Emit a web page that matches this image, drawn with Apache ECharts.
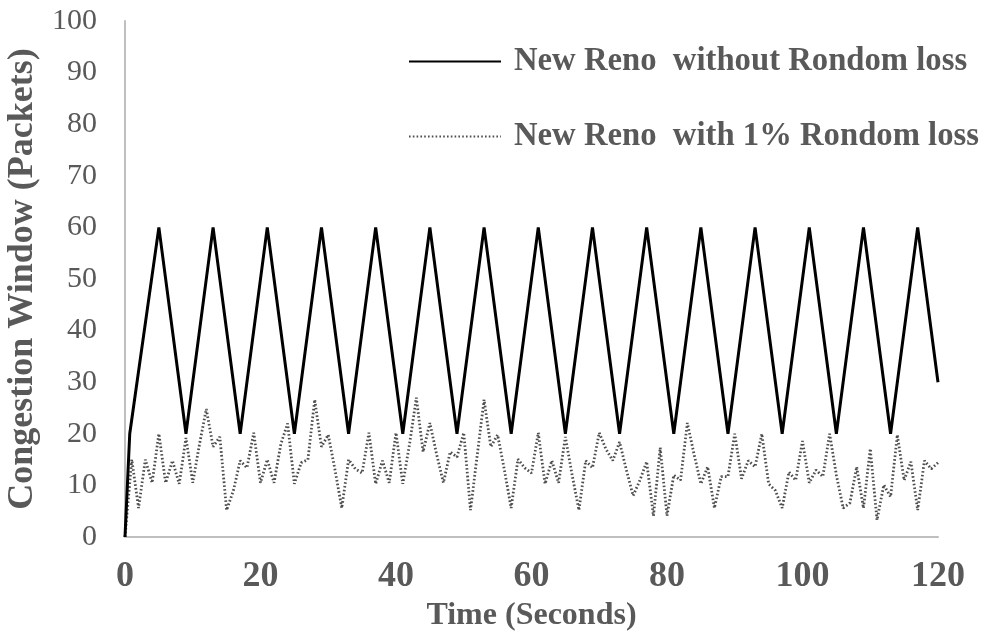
<!DOCTYPE html>
<html>
<head>
<meta charset="utf-8">
<script src="https://cdn.jsdelivr.net/npm/echarts@6/dist/echarts.min.js"></script>
<style>
  html, body { margin: 0; padding: 0; background: #fff; }
  #chart { width: 982px; height: 640px; }
</style>
</head>
<body>
<div id="chart"></div>
<script>
// Congestion window of TCP New Reno over time, with and without random loss.

const seriesNames = ['New Reno  without Rondom loss', 'New Reno  with 1% Rondom loss'];

// Sawtooth without loss: vertices (time in seconds, cwnd in packets)
const noLossTime = [0, 0.7, 5, 9, 13, 17, 21, 25, 29, 33, 37, 41, 45, 49, 53, 57, 61, 65, 69, 73, 77, 81, 85, 89, 93, 97, 101, 105, 109, 113, 117, 120];
const noLossCwnd = [0, 20, 60, 20, 60, 20, 60, 20, 60, 20, 60, 20, 60, 20, 60, 20, 60, 20, 60, 20, 60, 20, 60, 20, 60, 20, 60, 20, 60, 20, 60, 30];

// With 1% random loss: one sample per second, 0..120 s
const lossTime = [];
for (let t = 0; t <= 120; t++) lossTime.push(t);
const lossCwnd = [
  0, 15, 5.6, 15, 10.5, 20, 10.5, 14.8, 10.3, 19.2,
  10.5, 18, 24.8, 17.5, 19.4, 5.2, 9, 14.8, 13.4, 20.2,
  10.5, 15, 10.5, 18, 22, 10.3, 14.4, 15, 26.6, 17.5,
  19.8, 13, 5.6, 15, 13.2, 12.4, 20.2, 10.3, 14.8, 10.5,
  20.2, 10.3, 18, 27, 16.5, 22.1, 16, 10.5, 16.5, 15.5,
  20.2, 5.2, 16, 26.6, 17.5, 19.8, 13, 5.6, 15.1, 13.4,
  12.4, 20.2, 10.3, 14.8, 10.5, 19.4, 12, 5.2, 14.8, 13.4,
  20.2, 17, 14.8, 18.4, 13, 8, 11, 14.6, 4.1, 17.3,
  4.1, 12, 11, 22.1, 16, 10.3, 13.6, 5.6, 11.7, 11.7,
  20, 11.3, 14.8, 13.6, 20, 10.3, 9, 5.6, 12.6, 11,
  18.6, 10.5, 13, 11.7, 20, 12, 5.6, 6.6, 13.6, 5.6,
  17.1, 3.3, 10.1, 7.8, 19.8, 11, 14.6, 5.2, 14.8, 13.2,
  14.4
];

const xTicks = { min: 0, max: 120, interval: 20 };
const yTicks = { min: 0, max: 100, interval: 10 };

const zip = (xs, ys) => xs.map((x, i) => [x, ys[i]]);

const serif = '"Liberation Serif", "Times New Roman", serif';
const grey = '#595959';

const chart = echarts.init(document.getElementById('chart'), null, { renderer: 'canvas' });
chart.setOption({
  animation: false,
  backgroundColor: '#ffffff',
  grid: { left: 125, right: 44, top: 21, bottom: 103, containLabel: false, outerBoundsMode: 'none' },
  legend: {
    orient: 'vertical',
    left: 408,
    top: 45,
    padding: 0,
    itemWidth: 92,
    itemHeight: 20,
    itemGap: 42,
    itemStyle: { opacity: 0 },
    textStyle: {
      fontFamily: serif,
      fontWeight: 'bold',
      fontSize: 32.7,
      color: grey,
      padding: [0, 0, 0, 8]
    },
    data: seriesNames
  },
  xAxis: {
    type: 'value',
    min: xTicks.min,
    max: xTicks.max,
    interval: xTicks.interval,
    name: 'Time (Seconds)',
    nameLocation: 'middle',
    nameGap: 63,
    nameTextStyle: { fontFamily: serif, fontWeight: 'bold', fontSize: 32, color: grey },
    axisLine: { lineStyle: { color: '#bfbfbf', width: 2 } },
    axisTick: { show: false },
    splitLine: { show: false },
    axisLabel: { fontFamily: serif, fontWeight: 'bold', fontSize: 36, color: grey, margin: 22 }
  },
  yAxis: {
    type: 'value',
    min: yTicks.min,
    max: yTicks.max,
    interval: yTicks.interval,
    name: 'Congestion Window (Packets)',
    nameLocation: 'middle',
    nameGap: 57,
    nameTextStyle: { fontFamily: serif, fontWeight: 'bold', fontSize: 36, color: grey },
    axisLine: { show: true, lineStyle: { color: '#bfbfbf', width: 2 } },
    axisTick: { show: false },
    splitLine: { show: false },
    axisLabel: { fontFamily: serif, fontSize: 30, color: grey, margin: 28 }
  },
  series: [
    {
      name: seriesNames[0],
      type: 'line',
      data: zip(noLossTime, noLossCwnd),
      symbol: 'none',
      lineStyle: { color: '#000000', width: 3 },
      itemStyle: { color: '#000000' },
      z: 3
    },
    {
      name: seriesNames[1],
      type: 'line',
      data: zip(lossTime, lossCwnd),
      symbol: 'none',
      lineStyle: { color: '#4d4d4d', width: 2.8, type: [1.6, 2.2] },
      itemStyle: { color: '#4d4d4d' },
      z: 2
    }
  ]
});
</script>
</body>
</html>
